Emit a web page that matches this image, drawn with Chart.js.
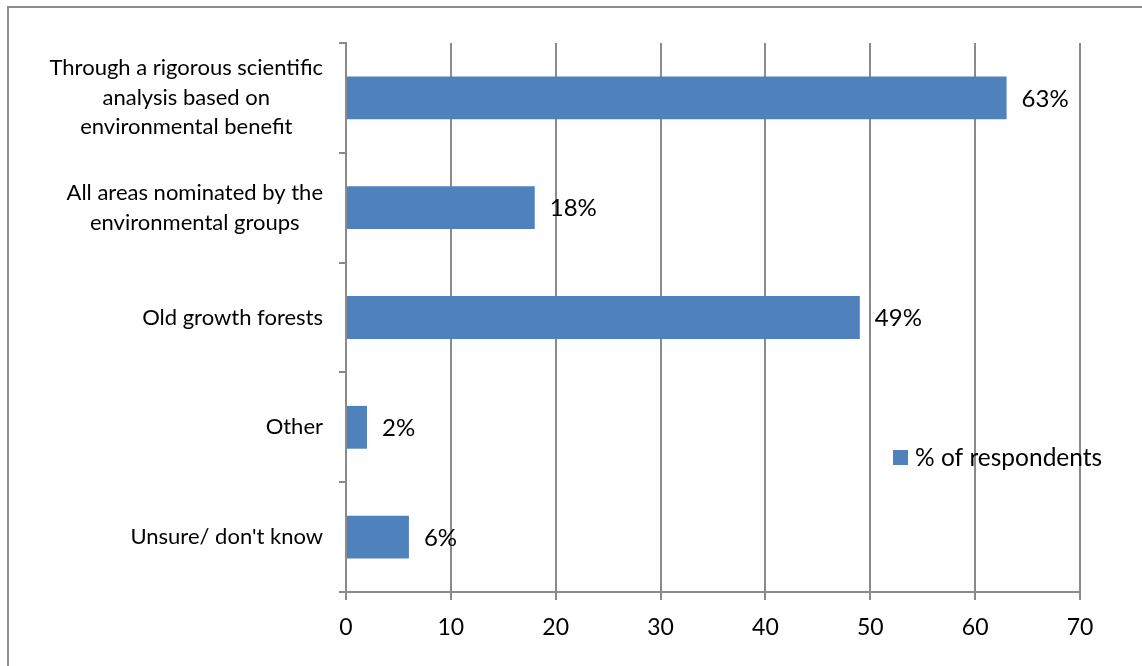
<!DOCTYPE html>
<html>
<head>
<meta charset="utf-8">
<title>% of respondents</title>
<script src="https://cdn.jsdelivr.net/npm/chart.js@4/dist/chart.umd.min.js"></script>
<style>
  html, body { margin: 0; padding: 0; background: #ffffff; }
  #wrap { position: relative; width: 1142px; height: 666px; }
  canvas { display: block; }
</style>
</head>
<body>
<div id="wrap"><canvas id="chart" width="1142" height="666"></canvas></div>
<script>
// Survey answers, each category label split into its printed lines
const categories = [
  ["Through a rigorous scientific", "analysis based on", "environmental benefit"],
  ["All areas nominated by the", "environmental groups"],
  ["Old growth forests"],
  ["Other"],
  ["Unsure/ don't know"]
];
const seriesName = "% of respondents";
const respondents = [63, 18, 49, 2, 6];
const xTicks = [0, 10, 20, 30, 40, 50, 60, 70];

const FONT = "Lato, 'Open Sans', sans-serif";
const BAR_COLOR = "#4F81BD";
const LINE_COLOR = "#8a8a8a";

// Outer frame (left and top edges only)
const framePlugin = {
  id: "frame",
  beforeDraw(chart) {
    const ctx = chart.ctx;
    ctx.save();
    ctx.strokeStyle = "#8c8c8c";
    ctx.lineWidth = 2;
    ctx.beginPath();
    ctx.moveTo(8, chart.height);
    ctx.lineTo(8, 7);
    ctx.lineTo(chart.width, 7);
    ctx.stroke();
    ctx.restore();
  }
};

// Category labels: block right-aligned to the axis, lines centred within the block
const categoryLabelPlugin = {
  id: "categoryLabels",
  afterDraw(chart) {
    const ctx = chart.ctx;
    const y = chart.scales.y;
    const right = chart.chartArea.left - 23;
    const lineH = 29.5;
    ctx.save();
    ctx.font = "22px " + FONT;
    ctx.fillStyle = "#000";
    ctx.textBaseline = "middle";
    ctx.textAlign = "center";
    chart.data.labels.forEach((lines, i) => {
      const w = Math.max(...lines.map(l => ctx.measureText(l).width));
      const cx = right - w / 2;
      const cy = y.getPixelForValue(i);
      const y0 = cy - (lines.length - 1) * lineH / 2;
      lines.forEach((l, k) => ctx.fillText(l, cx, y0 + k * lineH));
    });
    ctx.restore();
  }
};

// Value labels after each bar
const valueLabelPlugin = {
  id: "valueLabels",
  afterDatasetsDraw(chart) {
    const ctx = chart.ctx;
    const meta = chart.getDatasetMeta(0);
    const data = chart.data.datasets[0].data;
    ctx.save();
    ctx.font = "24px " + FONT;
    ctx.fillStyle = "#000";
    ctx.textBaseline = "middle";
    ctx.textAlign = "left";
    meta.data.forEach((bar, i) => {
      ctx.fillText(data[i] + "%", bar.x + 15, bar.y + 1);
    });
    ctx.restore();
  }
};

// Legend entry sitting inside the plot area
const legendPlugin = {
  id: "insideLegend",
  afterDraw(chart) {
    const ctx = chart.ctx;
    const a = chart.chartArea;
    const x = a.left + 547;
    const y = a.top + 414;
    ctx.save();
    ctx.fillStyle = BAR_COLOR;
    ctx.fillRect(x, y - 7, 15, 15);
    ctx.font = "24.5px " + FONT;
    ctx.fillStyle = "#000";
    ctx.textBaseline = "middle";
    ctx.textAlign = "left";
    ctx.fillText(chart.data.datasets[0].label, x + 22, y + 1);
    ctx.restore();
  }
};

new Chart(document.getElementById("chart"), {
  type: "bar",
  data: {
    labels: categories,
    datasets: [{
      label: seriesName,
      data: respondents,
      backgroundColor: BAR_COLOR,
      borderWidth: 0,
      categoryPercentage: 1,
      barPercentage: 0.39
    }]
  },
  options: {
    indexAxis: "y",
    responsive: false,
    animation: false,
    layout: { padding: { top: 43, right: 62, left: 0, bottom: 0 } },
    plugins: {
      legend: { display: false },
      tooltip: { enabled: false }
    },
    scales: {
      x: {
        min: xTicks[0],
        max: xTicks[xTicks.length - 1],
        afterBuildTicks(scale) { scale.ticks = xTicks.map(v => ({ value: v })); },
        afterFit(scale) { scale.height = 74; },
        grid: {
          color: LINE_COLOR,
          lineWidth: 2,
          drawTicks: true,
          tickLength: 8
        },
        border: { color: LINE_COLOR, width: 2 },
        ticks: {
          color: "#000",
          font: { family: FONT, size: 23 },
          padding: 14,
          maxRotation: 0
        }
      },
      y: {
        afterFit(scale) { scale.width = 346; },
        grid: {
          offset: true,
          drawOnChartArea: false,
          drawTicks: true,
          tickLength: 7,
          color: LINE_COLOR,
          lineWidth: 2
        },
        border: { color: LINE_COLOR, width: 2 },
        ticks: { display: false }
      }
    }
  },
  plugins: [framePlugin, categoryLabelPlugin, valueLabelPlugin, legendPlugin]
});
</script>
</body>
</html>
